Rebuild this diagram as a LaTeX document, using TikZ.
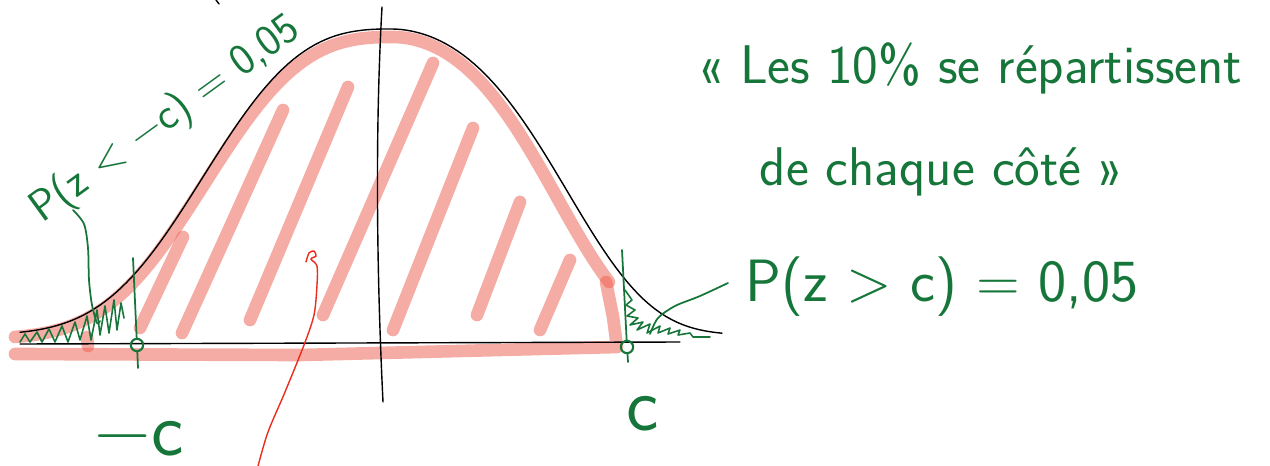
\documentclass[tikz,border=0pt]{standalone}
\usepackage{fontspec}
\usetikzlibrary{calc}
\definecolor{hlpk}{RGB}{236,90,75}
\definecolor{pgrn}{RGB}{22,118,58}
\definecolor{pred}{RGB}{235,45,30}
\tikzset{
  hl/.style={hlpk,opacity=0.5,line width=7.2pt,line cap=round,line join=round},
  pen/.style={black,line width=0.8pt,line cap=round},
  gpen/.style={pgrn,line width=1pt,line cap=round,line join=round},
  rpen/.style={pred,line width=0.8pt,line cap=round},
  hand/.style={text=pgrn,font=\sffamily\fontsize{31}{34}\selectfont,inner sep=0pt},
  bigc/.style={hand,font=\sffamily\fontsize{44}{46}\selectfont},
  cmark/.style={circle,draw=pgrn,line width=1.2pt,minimum size=7pt,inner sep=0pt},
}

\begin{document}
\begin{tikzpicture}[x=0.02cm,y=-0.02cm]
\useasboundingbox (0,0) rectangle (1270,466);
% ---- highlighter: outline of the middle area, then the hatching
\draw[hl] plot[domain=15:392,samples=60] (\x,{339-302*exp(-(0.03*pow((392-\x)/100,2)+0.085*pow((392-\x)/100,3)))})
  -- plot[domain=392:609,samples=40] (\x,{339-302*exp(-(0.151*pow((\x-392)/93,2)+0.0285*pow((\x-392)/93,4)))});
\draw[hl] (606,282) -- (613,317) -- (617,347) -- (300,355) -- (15,354);
\draw[hl] (87,337) -- (88,346);
\foreach \xa/\ya/\xb/\yb in {183/237/140/328, 283/110/182/333, 348/87/250/320, 433/63/323/315, 473/128/393/330, 520/202/477/315, 570/260/540/330}
  \draw[hl] (\xa,\ya) -- (\xb,\yb);
% ---- axes and the bell curve
\draw[pen] (216,0) -- (219,4);
\draw[pen] (20,344) -- (680,342);
\draw[pen] (382,7) .. controls (374,150) and (378,300) .. (383,402);
\draw[pen] plot[domain=20:390,samples=70] (\x,{335-306*exp(-(0.03*pow((390-\x)/100,2)+0.085*pow((390-\x)/100,3)))})
  -- plot[domain=390:722,samples=60] (\x,{335-306*exp(-(0.151*pow((\x-390)/100,2)+0.0285*pow((\x-390)/100,4)))});
% ---- the two bounds -c and c
\node[cmark] (mleft) at (137,345) {};
\node[cmark] (mright) at (627,347) {};
\draw[gpen] (133,258) -- (mleft) -- (138,368);
\draw[gpen] (622,250) -- (mright) -- (628,362);
\node[bigc] (lmc) at (139,439) {−c};
\node[bigc] (lc) at (643,414) {c};
% ---- tails, scribbled
\draw[gpen,line width=0.9pt] (20,342) -- (25,334) -- (30,342) -- (37,332) -- (42,342) -- (49,329) -- (55,342) -- (62,326) -- (68,342) -- (75,322) -- (80,340) -- (87,316) -- (91,340) -- (97,310) -- (100,335) -- (105,306) -- (109,333) -- (114,300) -- (117,330) -- (121,303) -- (124,318);
\draw[gpen,line width=0.9pt] (625,290) -- (632,300) -- (626,305) -- (635,310) -- (627,316) -- (638,318) -- (630,325) -- (643,322) -- (637,330) -- (650,324) -- (647,333) -- (660,326) -- (658,333) -- (670,328) -- (668,334) -- (680,330) -- (678,335) -- (690,333) -- (693,337) -- (710,337);
% ---- labels and their leaders
\node[hand,rotate=36,font=\sffamily\fontsize{25}{28}\selectfont] (pleft) at (166,120) {P(z < −c) = 0,05};
\draw[gpen] plot[smooth] coordinates {(73,210) (84,224) (88,248) (89,280) (92,305) (97,323) (100,321)};
\node[hand,font=\sffamily\fontsize{34}{36}\selectfont] (pright) at (942,287) {P(z > c) = 0,05};
\draw[gpen] plot[smooth] coordinates {(650,334) (658,318) (675,306) (700,296) (728,283)};
\node[hand] (quoteA) at (970,68) {« Les 10\% se répartissent};
\node[hand] (quoteB) at (942,172) {de chaque côté »};
% ---- red pointer into the middle area
\draw[rpen] plot[smooth] coordinates {(306,262) (309,253) (314,251) (316,256) (311,259) (317,266) (317,285) (314,315) (304,345) (285,392) (268,432) (258,466)};
\end{tikzpicture}
\end{document}
